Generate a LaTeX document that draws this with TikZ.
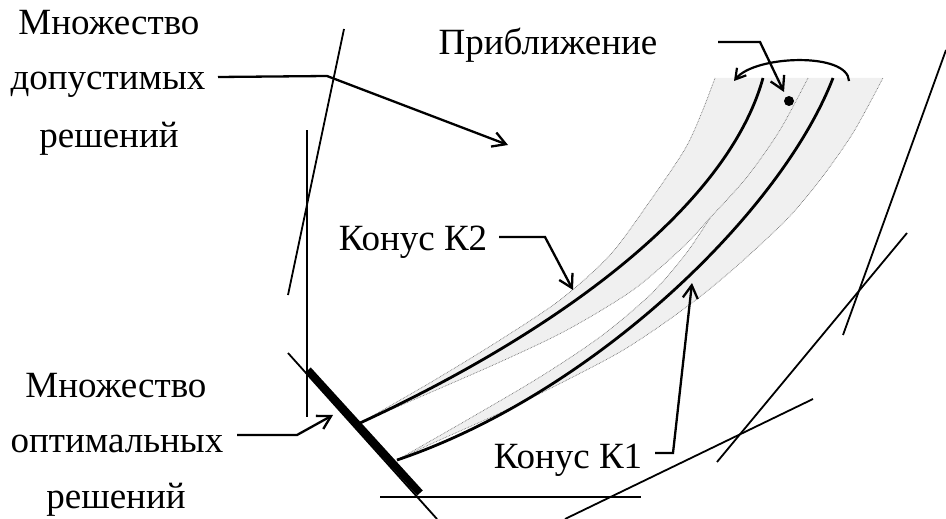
\documentclass[tikz,border=0pt]{standalone}
\usepackage{fontspec}
\setmainfont{Liberation Serif}
\usetikzlibrary{arrows.meta}
\definecolor{bandgray}{HTML}{F0F0F0}
\begin{document}
\begin{tikzpicture}[x=1pt,y=-1pt,
  lbl/.style={font=\fontsize{37}{42}\selectfont, anchor=base, inner sep=0pt},
  leader/.style={line width=2.3pt, line join=miter, -{Straight Barb[length=13pt,width=15pt]}},
  thinline/.style={line width=1.8pt},
  conecurve/.style={line width=2.8pt},
  bound/.style={black!55, line width=0.7pt, dash pattern=on 0.7pt off 0.9pt}]
\useasboundingbox (0,0) rectangle (946,519);

% gray bands
\fill[bandgray] plot[smooth] coordinates {(360,423) (433,381) (500,340) (560,300) (610,255) (650,201) (685,149) (702,112) (715,78)}
  -- plot[smooth] coordinates {(808,78) (780,130) (747,177) (710,218) (683,247) (633,290) (567,330) (500,362) (420,397) (360,423)} -- cycle;
\fill[bandgray] plot[smooth] coordinates {(397,460) (467,420) (540,377) (600,337) (650,295) (685,255) (710,218) (747,177) (780,130) (808,78)}
  -- plot[smooth] coordinates {(883,78) (853,133) (820,180) (790,216) (760,245) (730,272) (697,299) (660,326) (620,352) (567,380) (500,413) (433,443) (397,460)} -- cycle;

% dotted boundaries
\draw[bound] plot[smooth] coordinates {(360,423) (433,381) (500,340) (560,300) (610,255) (650,201) (685,149) (702,112) (715,78)};
\draw[bound] plot[smooth] coordinates {(360,423) (420,397) (500,362) (567,330) (633,290) (683,247) (710,218) (747,177) (780,130) (808,78)};
\draw[bound] plot[smooth] coordinates {(397,460) (467,420) (540,377) (600,337) (650,295) (685,255) (710,218)};
\draw[bound] plot[smooth] coordinates {(397,460) (433,443) (500,413) (567,380) (620,352) (660,326) (697,299) (730,272) (760,245) (790,216) (820,180) (853,133) (883,78)};

% solid cone curves
\coordinate (apex2) at (360,423); \coordinate (top2) at (763,78);
\coordinate (apex1) at (397,460); \coordinate (top1) at (833,78);
\draw[conecurve] (apex2) .. controls (540,340) and (725,215) .. (top2);
\draw[conecurve] (apex1) .. controls (590,395) and (780,215) .. (top1);

% thin lines
\coordinate (l1a) at (344,29);  \coordinate (l1b) at (288,295);
\coordinate (l2a) at (307,130); \coordinate (l2b) at (307,417);
\coordinate (l3a) at (288,353); \coordinate (l3b) at (437,519);
\coordinate (l4a) at (380,497); \coordinate (l4b) at (641,497);
\coordinate (l5a) at (565,519); \coordinate (l5b) at (813,399);
\coordinate (l6a) at (717,462); \coordinate (l6b) at (907,233);
\coordinate (l7a) at (843,335); \coordinate (l7b) at (946,50);
\draw[thinline] (l1a) -- (l1b);
\draw[thinline] (l2a) -- (l2b);
\draw[thinline] (l3a) -- (l3b);
\draw[thinline] (l4a) -- (l4b);
\draw[thinline] (l5a) -- (l5b);
\draw[thinline] (l6a) -- (l6b);
\draw[thinline] (l7a) -- (l7b);

% thick optimal set
\coordinate (opta) at (308,370); \coordinate (optb) at (420,493);
\draw[line width=7.5pt] (opta) -- (optb);

% approximation point and arc
\coordinate (pt) at (789,101);
\fill (pt) circle (5pt);
\coordinate (arcR) at (849,81); \coordinate (arcL) at (734,81);
\draw[line width=2.2pt, -{Straight Barb[length=10pt,width=12pt]}] (arcR) .. controls (848,52) and (755,55) .. (arcL);

% labels
\node[lbl] (a1) at (109,35) {Множество};
\node[lbl] (a2) at (108,90) {допустимых};
\node[lbl] (a3) at (109,147) {решений};
\node[lbl] (b1) at (116,397) {Множество};
\node[lbl] (b2) at (117,452) {оптимальных};
\node[lbl] (b3) at (116,508) {решений};
\node[lbl] (p) at (548,55) {Приближение};
\node[lbl] (k2) at (413,250) {Конус К2};
\node[lbl] (k1) at (568,468) {Конус К1};

% leaders
\coordinate (a2s) at (218,77); \coordinate (a2m) at (327,76); \coordinate (a2t) at (508,145);
\draw[leader] (a2s) -- (a2m) -- (a2t);
\coordinate (ps) at (718,42); \coordinate (pm) at (760,42); \coordinate (pt2) at (784,92);
\draw[leader] (ps) -- (pm) -- (pt2);
\coordinate (k2s) at (499,237); \coordinate (k2m) at (545,237); \coordinate (k2t) at (573,290);
\draw[leader] (k2s) -- (k2m) -- (k2t);
\coordinate (k1s) at (655,453); \coordinate (k1m) at (673,453); \coordinate (k1t) at (692,283);
\draw[leader] (k1s) -- (k1m) -- (k1t);
\coordinate (b2s) at (237,435); \coordinate (b2m) at (297,435); \coordinate (b2t) at (333,415);
\draw[leader] (b2s) -- (b2m) -- (b2t);
\end{tikzpicture}
\end{document}
